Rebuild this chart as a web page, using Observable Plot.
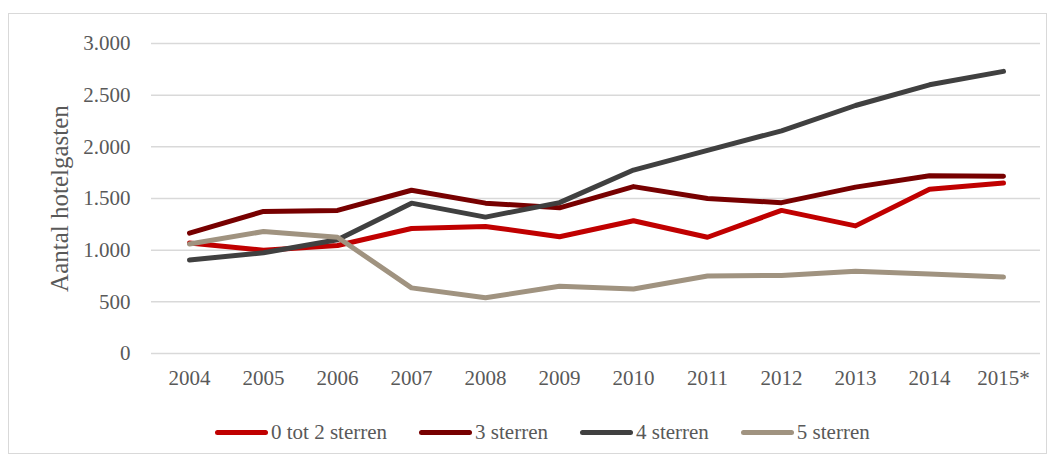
<!DOCTYPE html>
<html>
<head>
<meta charset="utf-8">
<script src="https://cdn.jsdelivr.net/npm/d3@7"></script>
<script src="https://cdn.jsdelivr.net/npm/@observablehq/plot@0.6"></script>
<style>
  html, body { margin: 0; padding: 0; background: #fff; }
  #wrap { position: relative; width: 1053px; height: 457px; overflow: hidden; font-family: "Liberation Serif", "DejaVu Serif", serif; }
  #frame { position: absolute; left: 8px; top: 13px; width: 1039px; height: 441px; border: 1px solid #d9d9d9; box-sizing: border-box; }
  #chart { position: absolute; left: 0; top: 0; }
  #legend { position: absolute; left: 215px; top: 420px; display: flex; align-items: center; gap: 32px; color: #595959; font-size: 21px; }
  .item { display: flex; align-items: center; }
  .sw { width: 53px; height: 5px; border-radius: 3px; margin-right: 3px; }
</style>
</head>
<body>
<div id="wrap">
  <div id="frame"></div>
  <div id="chart"></div>
  <div id="legend"></div>
</div>
<script>
const years = ["2004","2005","2006","2007","2008","2009","2010","2011","2012","2013","2014","2015*"];
const seriesNames = ["0 tot 2 sterren","3 sterren","4 sterren","5 sterren"];
const colors = ["#c00000","#770000","#404040","#a09380"];
const s0 = [1070,1000,1045,1210,1230,1130,1285,1125,1385,1235,1590,1650];
const s1 = [1165,1375,1385,1580,1455,1410,1615,1500,1460,1610,1720,1715];
const s2 = [905,975,1100,1455,1320,1460,1775,1965,2155,2400,2600,2730];
const s3 = [1060,1180,1125,635,540,650,625,750,755,795,770,740];
const yTicks = [0,500,1000,1500,2000,2500,3000];
const yLabel = "Aantal hotelgasten";

const allSeries = [s0, s1, s2, s3];
const data = [];
allSeries.forEach((vals, i) => vals.forEach((v, j) => data.push({year: years[j], value: v, series: seriesNames[i]})));

const fmt = d => d3.format(",")(d).replace(/,/g, ".");

const plot = Plot.plot({
  width: 1053,
  height: 400,
  marginLeft: 151,
  marginRight: 13,
  marginTop: 43,
  marginBottom: 47,
  style: { fontFamily: '"Liberation Serif", "DejaVu Serif", serif', fontSize: "21px", color: "#595959", background: "transparent" },
  x: { type: "point", domain: years, padding: 0.5, label: null },
  y: { domain: [0, 3000], ticks: yTicks, label: null },
  color: { domain: seriesNames, range: colors },
  marks: [
    Plot.gridY(yTicks, { stroke: "#d9d9d9", strokeOpacity: 1, strokeWidth: 1.5 }),
    Plot.axisX({ tickSize: 0, tickPadding: 17, fontSize: 21, fill: "#595959", label: null }),
    Plot.axisY({ ticks: yTicks, tickSize: 0, tickPadding: 21, tickFormat: fmt, fontSize: 21, fill: "#595959", label: null }),
    Plot.text([yLabel], { frameAnchor: "left", textAnchor: "middle", rotate: -90, dx: -92, fontSize: 25, fill: "#595959", text: d => d }),
    Plot.line(data, { x: "year", y: "value", z: "series", stroke: "series", strokeWidth: 5, strokeLinecap: "round", strokeLinejoin: "round" })
  ]
});
document.getElementById("chart").appendChild(plot);

const legend = document.getElementById("legend");
seriesNames.forEach((name, i) => {
  const it = document.createElement("div");
  it.className = "item";
  const sw = document.createElement("div");
  sw.className = "sw";
  sw.style.background = colors[i];
  const t = document.createElement("span");
  t.textContent = name;
  it.appendChild(sw); it.appendChild(t);
  legend.appendChild(it);
});
</script>
</body>
</html>
